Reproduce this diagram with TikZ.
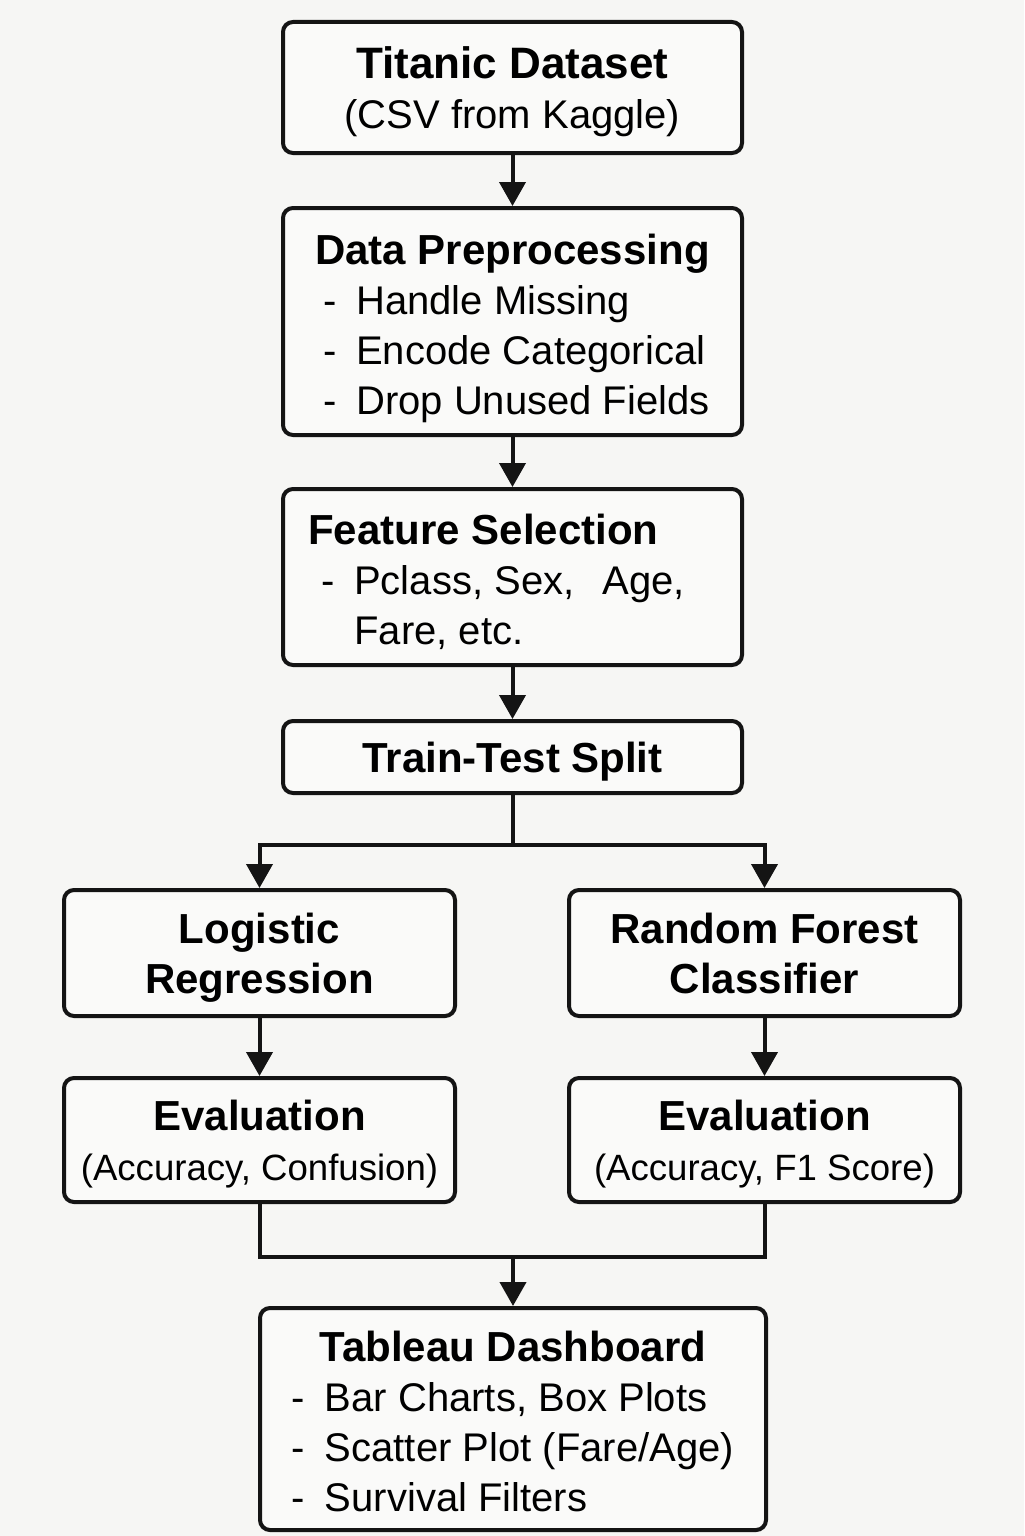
\documentclass[tikz,border=0pt]{standalone}
\usepackage{fontspec}
\setmainfont{Liberation Sans}
\usepackage{xcolor}
\usepackage{tikz}
\usetikzlibrary{positioning,arrows.meta}
\definecolor{ink}{HTML}{141414}
\definecolor{paper}{HTML}{F6F6F4}
\definecolor{cell}{HTML}{FAFAF9}
\newcommand{\hd}[1]{{\bfseries\fontsize{21}{25}\selectfont #1}}
\newcommand{\itm}{\makebox[16.5pt][l]{-}}
\tikzset{
  box/.style  ={rounded corners=5pt, draw=ink, line width=2pt, fill=cell, text depth=0pt,
                inner sep=0pt, align=center, font=\fontsize{20}{25}\selectfont},
  wbox/.style ={box, minimum width=229.5pt},
  sbox/.style ={box, minimum width=195.5pt},
  flow/.style ={-{Triangle[length=12pt,width=13pt]}, line width=2pt, draw=ink},
  link/.style ={line width=2pt, draw=ink},
}
\begin{document}
\begin{tikzpicture}
  \fill[paper] (0,0) rectangle (512pt,-768pt);
  \useasboundingbox (0,0) rectangle (512pt,-768pt);
  % main column
  \node[wbox, minimum height=65.5pt] (data) at (256.25pt,-43.75pt)
    {{\bfseries\fontsize{22}{25}\selectfont Titanic Dataset}\\(CSV from Kaggle)};
  \node[wbox, minimum height=113.5pt, below=25.5pt of data] (prep)
    {\begin{tabular}[b]{@{}l@{}}\multicolumn{1}{@{}c@{}}{\hd{Data Preprocessing}}\\
      \hspace*{4pt}\itm Handle Missing\\ \hspace*{4pt}\itm Encode Categorical\\ \hspace*{4pt}\itm Drop Unused Fields\end{tabular}};
  \node[wbox, minimum height=88pt, below=25pt of prep] (feat)
    {\begin{tabular}[b]{@{}l@{\hspace{16pt}}}\hd{Feature Selection}\\
      \hspace*{6.5pt}\itm Pclass, Sex,\hspace{14pt}Age,\\ \hspace*{23pt}Fare, etc.\end{tabular}};
  \node[wbox, minimum height=36pt, below=26pt of feat] (split) {\hd{Train-Test Split}};
  % two models
  \node[sbox, minimum height=63pt, below=46.5pt of split, xshift=-126.5pt] (logreg)
    {\hd{Logistic}\\\hd{Regression}};
  \node[sbox, minimum height=63pt, below=46.5pt of split, xshift=126pt] (forest)
    {\hd{Random Forest}\\\hd{Classifier}};
  \node[sbox, minimum height=62pt, below=29pt of logreg] (evalL)
    {\hd{Evaluation}\\{\fontsize{18.3}{25}\selectfont(Accuracy, Confusion)}};
  \node[sbox, minimum height=62pt, below=29pt of forest] (evalR)
    {\hd{Evaluation}\\{\fontsize{18.3}{25}\selectfont(Accuracy, F1 Score)}};
  % dashboard
  \node[box, minimum width=253pt, minimum height=111pt, below=51pt of evalL, xshift=126.75pt] (dash)
    {\begin{tabular}[b]{@{}l@{}}\multicolumn{1}{@{}c@{}}{\hd{Tableau Dashboard}}\\
      \itm Bar Charts, Box Plots\\ \itm Scatter Plot (Fare/Age)\\ \itm Survival Filters\end{tabular}};
  \coordinate[below=25pt of split] (fork);
  \coordinate[above=24.5pt of dash] (merge);
  \draw[flow] (data) -- (prep);
  \draw[flow] (prep) -- (feat);
  \draw[flow] (feat) -- (split);
  \draw[link] (split) -- (fork);
  \draw[flow] (fork) -| (logreg);
  \draw[flow] (fork) -| (forest);
  \draw[flow] (logreg) -- (evalL);
  \draw[flow] (forest) -- (evalR);
  \draw[link] (evalL) |- (merge) -| (evalR);
  \draw[flow] (merge) -- (dash);
\end{tikzpicture}
\end{document}
